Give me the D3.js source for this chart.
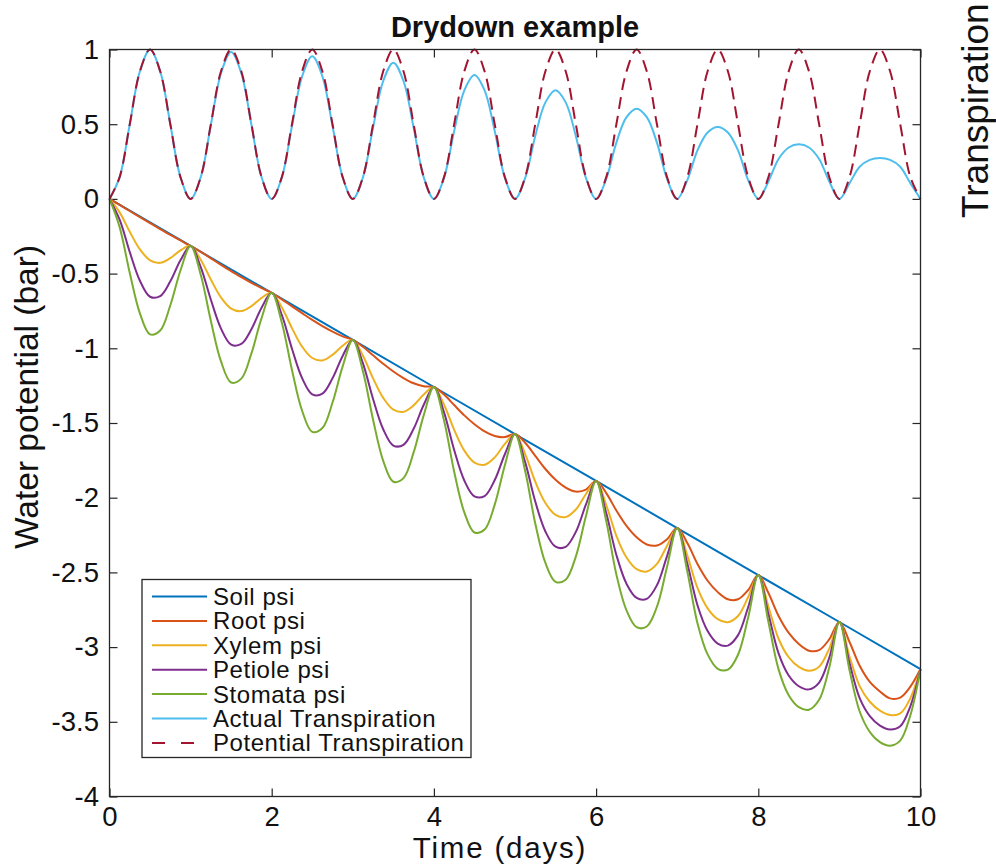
<!DOCTYPE html>
<html><head><meta charset="utf-8">
<script src="https://cdn.jsdelivr.net/npm/d3@7"></script>
<style>
body{margin:0;background:#fff}
svg{display:block}
text{font-family:"Liberation Sans",Arial,Helvetica,sans-serif;fill:#111}
</style>
</head><body>
<svg id="chart" width="996" height="865"></svg>
<script>
// ---------- data ----------
const titleText = "Drydown example";
const xLabel = "Time (days)";
const yLabel = "Water potential (bar)";
const rightLabel = "Transpiration";

const xTicks = [0, 2, 4, 6, 8, 10];
const xTickLabels = ["0", "2", "4", "6", "8", "10"];
const yTicks = [1, 0.5, 0, -0.5, -1, -1.5, -2, -2.5, -3, -3.5, -4];
const yTickLabels = ["1", "0.5", "0", "-0.5", "-1", "-1.5", "-2", "-2.5", "-3", "-3.5", "-4"];

// soil water potential at each whole day
const soilDays = [0, 1, 2, 3, 4, 5, 6, 7, 8, 9, 10];
const soilPsi = [0, -0.315, -0.629, -0.944, -1.259, -1.574, -1.888, -2.203, -2.518, -2.832, -3.147];

// other series sampled every 1/8 day from 0 to 10 (81 samples)
const rootPsi = [
  0, -0.040, -0.081, -0.122, -0.162, -0.202, -0.241, -0.278,
  -0.315, -0.355, -0.398, -0.441, -0.483, -0.523, -0.562, -0.597,
  -0.629, -0.672, -0.719, -0.765, -0.810, -0.851, -0.888, -0.920,
  -0.944, -0.990, -1.047, -1.104, -1.155, -1.199, -1.234, -1.254,
  -1.259, -1.310, -1.380, -1.449, -1.508, -1.556, -1.587, -1.594,
  -1.574, -1.632, -1.720, -1.808, -1.880, -1.932, -1.959, -1.946,
  -1.888, -1.969, -2.086, -2.189, -2.265, -2.313, -2.320, -2.278,
  -2.203, -2.304, -2.444, -2.556, -2.632, -2.680, -2.680, -2.618,
  -2.518, -2.638, -2.792, -2.905, -2.979, -3.024, -3.020, -2.948,
  -2.832, -2.966, -3.125, -3.233, -3.297, -3.343, -3.338, -3.265,
  -3.147];
const xylemPsi = [
  0, -0.090, -0.220, -0.338, -0.411, -0.428, -0.397, -0.345,
  -0.315, -0.407, -0.540, -0.660, -0.734, -0.751, -0.718, -0.662,
  -0.629, -0.727, -0.865, -0.989, -1.065, -1.081, -1.044, -0.983,
  -0.944, -1.050, -1.201, -1.332, -1.411, -1.425, -1.382, -1.309,
  -1.259, -1.378, -1.546, -1.685, -1.765, -1.779, -1.730, -1.640,
  -1.574, -1.708, -1.893, -2.036, -2.115, -2.130, -2.079, -1.975,
  -1.888, -2.049, -2.255, -2.400, -2.478, -2.494, -2.443, -2.321,
  -2.203, -2.388, -2.604, -2.741, -2.813, -2.833, -2.792, -2.665,
  -2.518, -2.730, -2.944, -3.068, -3.133, -3.158, -3.131, -3.010,
  -2.832, -3.063, -3.261, -3.366, -3.425, -3.454, -3.444, -3.342,
  -3.147];
const petiolePsi = [
  0, -0.139, -0.356, -0.548, -0.655, -0.651, -0.552, -0.411,
  -0.315, -0.456, -0.675, -0.868, -0.975, -0.971, -0.872, -0.728,
  -0.629, -0.777, -1.003, -1.200, -1.308, -1.304, -1.201, -1.051,
  -0.944, -1.101, -1.339, -1.542, -1.651, -1.646, -1.539, -1.378,
  -1.259, -1.429, -1.681, -1.885, -1.991, -1.989, -1.882, -1.709,
  -1.574, -1.762, -2.026, -2.226, -2.328, -2.329, -2.229, -2.045,
  -1.888, -2.103, -2.383, -2.576, -2.671, -2.677, -2.586, -2.391,
  -2.203, -2.441, -2.720, -2.893, -2.977, -2.990, -2.920, -2.733,
  -2.518, -2.779, -3.042, -3.190, -3.262, -3.283, -3.237, -3.071,
  -2.832, -3.107, -3.342, -3.462, -3.525, -3.551, -3.530, -3.396,
  -3.147];
const stomataPsi = [
  0, -0.189, -0.496, -0.766, -0.907, -0.881, -0.712, -0.479,
  -0.315, -0.508, -0.817, -1.088, -1.229, -1.203, -1.034, -0.798,
  -0.629, -0.829, -1.145, -1.418, -1.559, -1.534, -1.363, -1.121,
  -0.944, -1.153, -1.478, -1.753, -1.893, -1.869, -1.697, -1.447,
  -1.259, -1.484, -1.826, -2.098, -2.233, -2.213, -2.046, -1.783,
  -1.574, -1.820, -2.173, -2.437, -2.563, -2.549, -2.394, -2.123,
  -1.888, -2.157, -2.514, -2.754, -2.867, -2.862, -2.730, -2.462,
  -2.203, -2.495, -2.840, -3.049, -3.145, -3.151, -3.051, -2.802,
  -2.518, -2.832, -3.149, -3.322, -3.402, -3.419, -3.353, -3.137,
  -2.832, -3.155, -3.431, -3.568, -3.636, -3.660, -3.626, -3.456,
  -3.147];
const actualT = [
  0, 0.146, 0.500, 0.854, 1.000, 0.854, 0.500, 0.146,
  0, 0.146, 0.496, 0.841, 0.983, 0.841, 0.496, 0.146,
  0, 0.145, 0.488, 0.820, 0.954, 0.820, 0.488, 0.145,
  0, 0.144, 0.477, 0.789, 0.912, 0.789, 0.477, 0.144,
  0, 0.142, 0.454, 0.727, 0.830, 0.727, 0.454, 0.142,
  0, 0.139, 0.421, 0.646, 0.727, 0.646, 0.421, 0.139,
  0, 0.134, 0.377, 0.547, 0.604, 0.547, 0.377, 0.134,
  0, 0.126, 0.325, 0.444, 0.481, 0.444, 0.325, 0.126,
  0, 0.117, 0.267, 0.344, 0.365, 0.344, 0.267, 0.117,
  0, 0.105, 0.215, 0.261, 0.273, 0.261, 0.215, 0.105,
  0];
const potentialT = [
  0, 0.146, 0.5, 0.854, 1, 0.854, 0.5, 0.146,
  0, 0.146, 0.5, 0.854, 1, 0.854, 0.5, 0.146,
  0, 0.146, 0.5, 0.854, 1, 0.854, 0.5, 0.146,
  0, 0.146, 0.5, 0.854, 1, 0.854, 0.5, 0.146,
  0, 0.146, 0.5, 0.854, 1, 0.854, 0.5, 0.146,
  0, 0.146, 0.5, 0.854, 1, 0.854, 0.5, 0.146,
  0, 0.146, 0.5, 0.854, 1, 0.854, 0.5, 0.146,
  0, 0.146, 0.5, 0.854, 1, 0.854, 0.5, 0.146,
  0, 0.146, 0.5, 0.854, 1, 0.854, 0.5, 0.146,
  0, 0.146, 0.5, 0.854, 1, 0.854, 0.5, 0.146,
  0];
const sampleTimes = d3.range(81).map(i => i / 8);

const seriesNames = ["Soil psi", "Root psi", "Xylem psi", "Petiole psi", "Stomata psi", "Actual Transpiration", "Potential Transpiration"];
const seriesColors = ["#0072BD", "#D95319", "#EDB120", "#7E2F8E", "#77AC30", "#4DBEEE", "#A2142F"];

// ---------- drawing ----------
const svg = d3.select("#chart");
const x = d3.scaleLinear().domain([0, 10]).range([109.5, 920.5]);
const y = d3.scaleLinear().domain([-4, 1]).range([796.5, 49.5]);
const axisColor = "#262626";
const fontFam = '"Liberation Sans",Arial,Helvetica,sans-serif';

// axes with inward ticks
const gB = svg.append("g").attr("transform", `translate(0,${y(-4)})`)
  .call(d3.axisBottom(x).tickValues(xTicks).tickSize(-8).tickSizeOuter(0).tickPadding(10)
    .tickFormat((d, i) => xTickLabels[i]));
const gT = svg.append("g").attr("transform", `translate(0,${y(1)})`)
  .call(d3.axisTop(x).tickValues(xTicks).tickSize(-8).tickSizeOuter(0).tickFormat(""));
const gL = svg.append("g").attr("transform", `translate(${x(0)},0)`)
  .call(d3.axisLeft(y).tickValues(yTicks).tickSize(-8).tickSizeOuter(0).tickPadding(10.5)
    .tickFormat((d, i) => yTickLabels[i]));
const gR = svg.append("g").attr("transform", `translate(${x(10)},0)`)
  .call(d3.axisRight(y).tickValues(yTicks).tickSize(-8).tickSizeOuter(0).tickFormat(""));
[gB, gT, gL, gR].forEach(g => {
  g.select(".domain").remove();
  g.selectAll(".tick line").attr("stroke", axisColor).attr("stroke-width", 1.2);
  g.selectAll(".tick text").attr("font-size", 27.5).attr("fill", "#111").attr("font-family", fontFam);
});

// lines
const lineT = d3.line().x((d, i) => x(sampleTimes[i])).y(d => y(d)).curve(d3.curveCatmullRom);
const lineSoil = d3.line().x((d, i) => x(soilDays[i])).y(d => y(d));
const plot = svg.append("g");
plot.append("path").attr("d", lineSoil(soilPsi)).attr("fill", "none")
  .attr("stroke", seriesColors[0]).attr("stroke-width", 2);
const fineSeries = [rootPsi, xylemPsi, petiolePsi, stomataPsi, actualT];
fineSeries.forEach((s, k) => {
  plot.append("path").attr("d", lineT(s)).attr("fill", "none")
    .attr("stroke", seriesColors[k + 1]).attr("stroke-width", 2);
});
plot.append("path").attr("d", lineT(potentialT)).attr("fill", "none")
  .attr("stroke", seriesColors[6]).attr("stroke-width", 2).attr("stroke-dasharray", "12,7");

// box
svg.append("rect").attr("x", x(0)).attr("y", y(1)).attr("width", x(10) - x(0)).attr("height", y(-4) - y(1))
  .attr("fill", "none").attr("stroke", axisColor).attr("stroke-width", 1.3);

// legend
const leg = svg.append("g");
leg.append("rect").attr("x", 142).attr("y", 579.5).attr("width", 329).attr("height", 178)
  .attr("fill", "#fff").attr("stroke", axisColor).attr("stroke-width", 1.3);
seriesNames.forEach((name, i) => {
  const cy = 596.5 + i * 24.4;
  leg.append("line").attr("x1", 152).attr("x2", 207).attr("y1", cy).attr("y2", cy)
    .attr("stroke", seriesColors[i]).attr("stroke-width", 2)
    .attr("stroke-dasharray", i === 6 ? "13,16" : null);
  leg.append("text").attr("x", 213).attr("y", cy).attr("dy", "0.35em")
    .attr("font-size", 24).attr("letter-spacing", "0.55px").text(name);
});

// titles and labels
svg.append("text").attr("x", 515).attr("y", 37).attr("text-anchor", "middle")
  .attr("font-size", 29).attr("font-weight", "bold").text(titleText);
svg.append("text").attr("x", 500).attr("y", 858.3).attr("text-anchor", "middle")
  .attr("font-size", 29.5).attr("letter-spacing", "1.8px").text(xLabel);
svg.append("text").attr("transform", "translate(38,397) rotate(-90)").attr("text-anchor", "middle")
  .attr("font-size", 33.5).text(yLabel);
svg.append("text").attr("transform", "translate(988,218) rotate(-90)").attr("text-anchor", "start")
  .attr("font-size", 37).text(rightLabel);
</script>
</body></html>
